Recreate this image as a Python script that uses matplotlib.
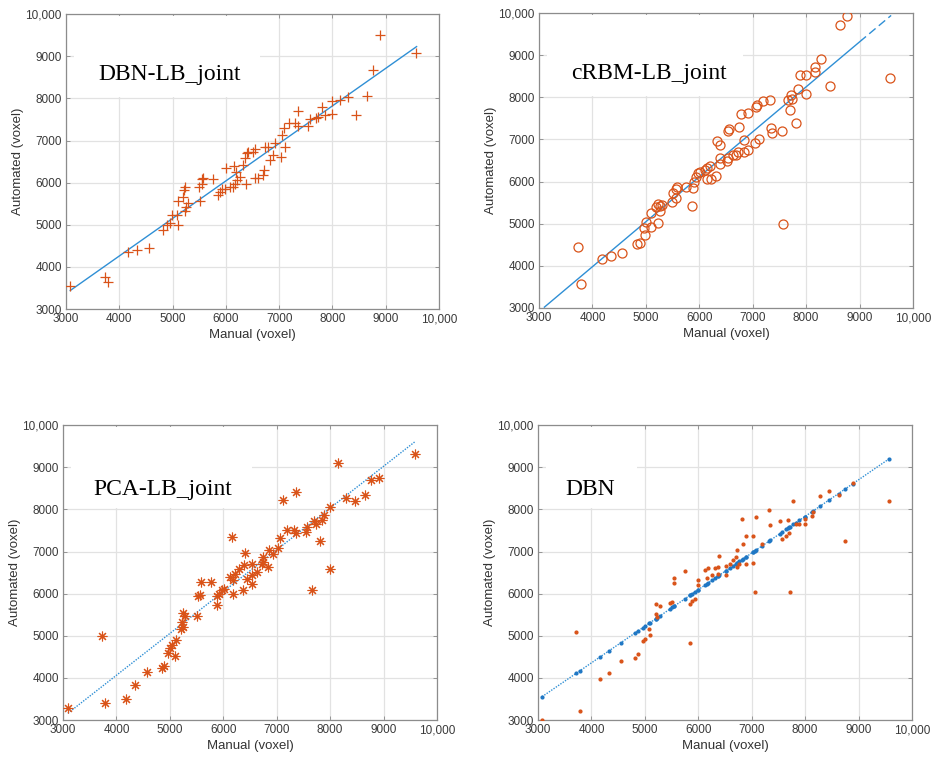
import numpy as np
import matplotlib
matplotlib.use("Agg")
import matplotlib.pyplot as plt
from matplotlib.patches import Rectangle

plt.rcParams['font.family'] = ['Liberation Sans', 'DejaVu Sans']

# ---- DBN-LB_joint (plus markers)
dbnlb_manual = [3080, 3730, 3780, 4160, 4340, 4560, 4825, 4890, 4950, 4995, 5075, 5105, 5105,
                5190, 5220, 5230, 5230, 5295, 5260, 5500, 5510, 5545, 5545, 5575, 5760, 5855,
                5890, 5920, 5980, 6000, 6075, 6140, 6150, 6170, 6190, 6210, 6260, 6325, 6360,
                6375, 6390, 6420, 6510, 6540, 6550, 6600, 6700, 6720, 6730, 6795, 6825, 6890,
                6920, 7030, 7060, 7090, 7105, 7190, 7295, 7345, 7355, 7545, 7575, 7690, 7730,
                7810, 7855, 7990, 7990, 8140, 8295, 8450, 8640, 8760, 8890, 9575]
dbnlb_auto = [3550, 3770, 3650, 4360, 4400, 4440, 4875, 4990, 5050, 5230, 5230, 4990, 5570,
              5670, 5820, 5890, 5330, 5510, 5430, 5900, 5560, 5980, 6080, 6120, 6085, 5705,
              5770, 5860, 5860, 6355, 5900, 5900, 6400, 5960, 6260, 6060, 6140, 6420, 6575,
              5980, 6695, 6735, 6735, 6100, 6790, 6115, 6180, 6300, 6850, 6850, 6535, 6655,
              6930, 6600, 7130, 7290, 6850, 7420, 7420, 7710, 7340, 7340, 7510, 7525, 7565,
              7800, 7600, 7945, 7640, 7960, 8025, 7600, 8055, 8670, 9500, 9090]
dbnlb_fit_x = [3080, 9580]
dbnlb_fit_y = [3440, 9230]

# ---- cRBM-LB_joint (open circles)
crbm_manual = [3736, 3786, 4173, 4354, 4560, 4834, 4884, 4978, 4959, 4996, 5102, 5102, 5227,
               5196, 5227, 5271, 5259, 5308, 5495, 5508, 5558, 5583, 5558, 5757, 5870, 5882,
               5895, 5932, 5976, 6019, 6100, 6144, 6144, 6194, 6225, 6318, 6331, 6381, 6394,
               6394, 6518, 6537, 6537, 6556, 6631, 6693, 6724, 6737, 6787, 6830, 6836, 6911,
               6911, 7036, 7055, 7080, 7117, 7192, 7317, 7348, 7367, 7548, 7566, 7660, 7704,
               7723, 7741, 7804, 7847, 7878, 7990, 8003, 8159, 8159, 8284, 8440, 8640, 8771,
               9575]
crbm_auto = [4436, 3576, 4168, 4231, 4310, 4515, 4539, 4736, 4910, 5052, 4918, 5249, 5012,
             5391, 5462, 5312, 5431, 5447, 5526, 5723, 5818, 5865, 5605, 5865, 5423, 5841,
             5999, 6118, 6197, 6236, 6275, 6331, 6054, 6378, 6062, 6141, 6970, 6418, 6552,
             6867, 6489, 6552, 7207, 7246, 6631, 6631, 6694, 7302, 7601, 6710, 6986, 6749,
             7617, 6907, 7775, 7815, 7002, 7909, 7949, 7262, 7144, 7199, 4997, 7949, 7696,
             8067, 7957, 7380, 8209, 8541, 8075, 8541, 8722, 8604, 8904, 8264, 9709, 9930,
             8462]
crbm_fit_x = [3100, 9030, 9590]
crbm_fit_y = [3020, 9350, 9945]

# ---- PCA-LB_joint (asterisks)
pca_manual = [3094, 3738, 3794, 4175, 4344, 4563, 4844, 4894, 4956, 5000, 5031, 5094, 5113,
              5200, 5219, 5238, 5250, 5281, 5513, 5531, 5563, 5575, 5763, 5888, 5875, 5925,
              5969, 6013, 6156, 6125, 6175, 6188, 6219, 6300, 6375, 6388, 6406, 6438, 6531,
              6544, 6544, 6625, 6719, 6738, 6750, 6844, 6863, 6925, 7031, 7063, 7113, 7200,
              7325, 7363, 7356, 7550, 7575, 7656, 7700, 7738, 7813, 7844, 7888, 8000, 8000,
              8156, 8294, 8456, 8644, 8769, 8906, 9581]
pca_auto = [3292, 4991, 3411, 3490, 3829, 4145, 4240, 4288, 4603, 4698, 4777, 4517, 4896,
            5172, 5330, 5543, 5212, 5465, 5472, 5938, 5962, 6278, 6278, 5725, 5946, 6002,
            6081, 6120, 7344, 6397, 6318, 6002, 6476, 6594, 6081, 6673, 6973, 6357, 6697,
            6436, 6239, 6515, 6697, 6871, 6752, 6634, 7044, 6934, 7092, 7329, 8229, 7518,
            7518, 7447, 8411, 7463, 7581, 6081, 7716, 7660, 7250, 7739, 7873, 6594, 8055,
            9098, 8269, 8198, 8332, 8703, 8735, 9319]
pca_fit_x = [3090, 9580]
pca_fit_y = [3160, 9600]

# ---- DBN (dots)
dbn_manual = [3075, 3719, 3781, 4156, 4331, 4550, 4813, 4863, 4956, 5000, 5081, 5094, 5206,
              5206, 5219, 5281, 5469, 5513, 5544, 5544, 5750, 5844, 5844, 5875, 5938, 6000,
              6000, 6125, 6156, 6188, 6250, 6313, 6375, 6388, 6375, 6519, 6513, 6594, 6656,
              6706, 6719, 6719, 6769, 6831, 6813, 6894, 6894, 7031, 7031, 7063, 7081, 7194,
              7331, 7344, 7531, 7563, 7644, 7688, 7700, 7719, 7781, 7831, 7888, 7988, 7988,
              8125, 8138, 8281, 8450, 8625, 8750, 8894, 9563]
dbn_auto = [3000, 5101, 3213, 3980, 4122, 4398, 4477, 4564, 4880, 4912, 5172, 5030, 5765,
            5512, 5449, 5702, 5780, 5804, 6381, 6254, 6531, 4817, 5749, 5828, 5883, 6318,
            6199, 6555, 6373, 6618, 6436, 6618, 6634, 6902, 6476, 6657, 6452, 6697, 6792,
            6871, 7044, 6634, 6697, 7170, 7763, 7360, 6697, 7368, 6721, 6041, 7818, 7170,
            7976, 7621, 7724, 7305, 7360, 7739, 7447, 6041, 8190, 7660, 7645, 7779, 7660,
            7834, 7937, 8324, 8435, 8332, 7242, 8632, 8198]
dbn_fit_x = [3075, 9563]
dbn_fit_y = [3553, 9193]

RED = '#D95319'
BLUE = '#2F8FD5'
ticks = [3000, 4000, 5000, 6000, 7000, 8000, 9000, 10000]
tick_labels = ['3000', '4000', '5000', '6000', '7000', '8000', '9000', '10,000']

fig = plt.figure(figsize=(9.31, 7.58), dpi=100)
axes_pos = [[0.0709, 0.5923, 0.4006, 0.389],
            [0.579, 0.5937, 0.4017, 0.389],
            [0.0677, 0.0501, 0.4017, 0.389],
            [0.5779, 0.0501, 0.4017, 0.389]]


def setup(ax, label, box_right, text_x, text_y):
    ax.set_xlim(3000, 10000)
    ax.set_ylim(3000, 10000)
    ax.set_xticks(ticks)
    ax.set_yticks(ticks)
    ax.set_xticklabels(tick_labels)
    ax.set_yticklabels(tick_labels)
    ax.tick_params(direction='in', length=3, width=0.6, colors='#888888',
                   labelcolor='#3a3a3a', labelsize=8.5, top=True, right=True, pad=3)
    ax.grid(True, color='#e2e2e2', linewidth=0.9)
    ax.set_axisbelow(True)
    for s in ax.spines.values():
        s.set_color('#8c8c8c')
        s.set_linewidth(0.9)
    ax.set_xlabel('Manual (voxel)', fontsize=9.5, color='#333333', labelpad=3)
    ax.set_ylabel('Automated (voxel)', fontsize=9.5, color='#333333', labelpad=1)
    # white backdrop behind the panel label, as in the original figure
    ax.add_patch(Rectangle((3150, 8040), box_right - 3150, 1910, facecolor='white',
                           edgecolor='none', zorder=1.5))
    ax.text(text_x, text_y, label, family=['Liberation Serif', 'DejaVu Serif'],
            fontsize=17, va='baseline', ha='left', zorder=5)


ax1 = fig.add_axes(axes_pos[0])
setup(ax1, 'DBN-LB_joint', 6640, 3600, 8440)
ax1.plot(dbnlb_fit_x, dbnlb_fit_y, color=BLUE, lw=1.0, zorder=3)
ax1.plot(dbnlb_manual, dbnlb_auto, '+', color=RED, ms=7, mew=0.9, zorder=4)

ax2 = fig.add_axes(axes_pos[1])
setup(ax2, 'cRBM-LB_joint', 6820, 3600, 8440)
ax2.plot(crbm_fit_x[:2], crbm_fit_y[:2], color=BLUE, lw=1.0, zorder=3)
ax2.plot(crbm_fit_x[1:], crbm_fit_y[1:], color=BLUE, lw=1.0, ls=(1.5, (6, 3)), zorder=3)
ax2.plot(crbm_manual, crbm_auto, 'o', color=RED, mfc='none', ms=6.5, mew=0.9, zorder=4)

ax3 = fig.add_axes(axes_pos[2])
setup(ax3, 'PCA-LB_joint', 6540, 3560, 8340)
ax3.plot(pca_fit_x, pca_fit_y, color=BLUE, lw=1.0, ls=(0, (1, 1)), zorder=3)
ax3.plot(pca_manual, pca_auto, ls='none', marker=(8, 2, 0), color=RED, ms=7, mew=0.8, zorder=4)

ax4 = fig.add_axes(axes_pos[3])
setup(ax4, 'DBN', 4850, 3505, 8340)
ax4.plot(dbn_fit_x, dbn_fit_y, color=BLUE, lw=1.0, ls=(0, (1, 1)), zorder=3)
dbn_pred = np.interp(dbn_manual, dbn_fit_x, dbn_fit_y)
ax4.plot(dbn_manual, dbn_pred, '.', color='#1f77c4', ms=4, zorder=3)
ax4.plot(dbn_manual, dbn_auto, '.', color=RED, ms=4, zorder=4)

fig.savefig('out.png', dpi=100)
